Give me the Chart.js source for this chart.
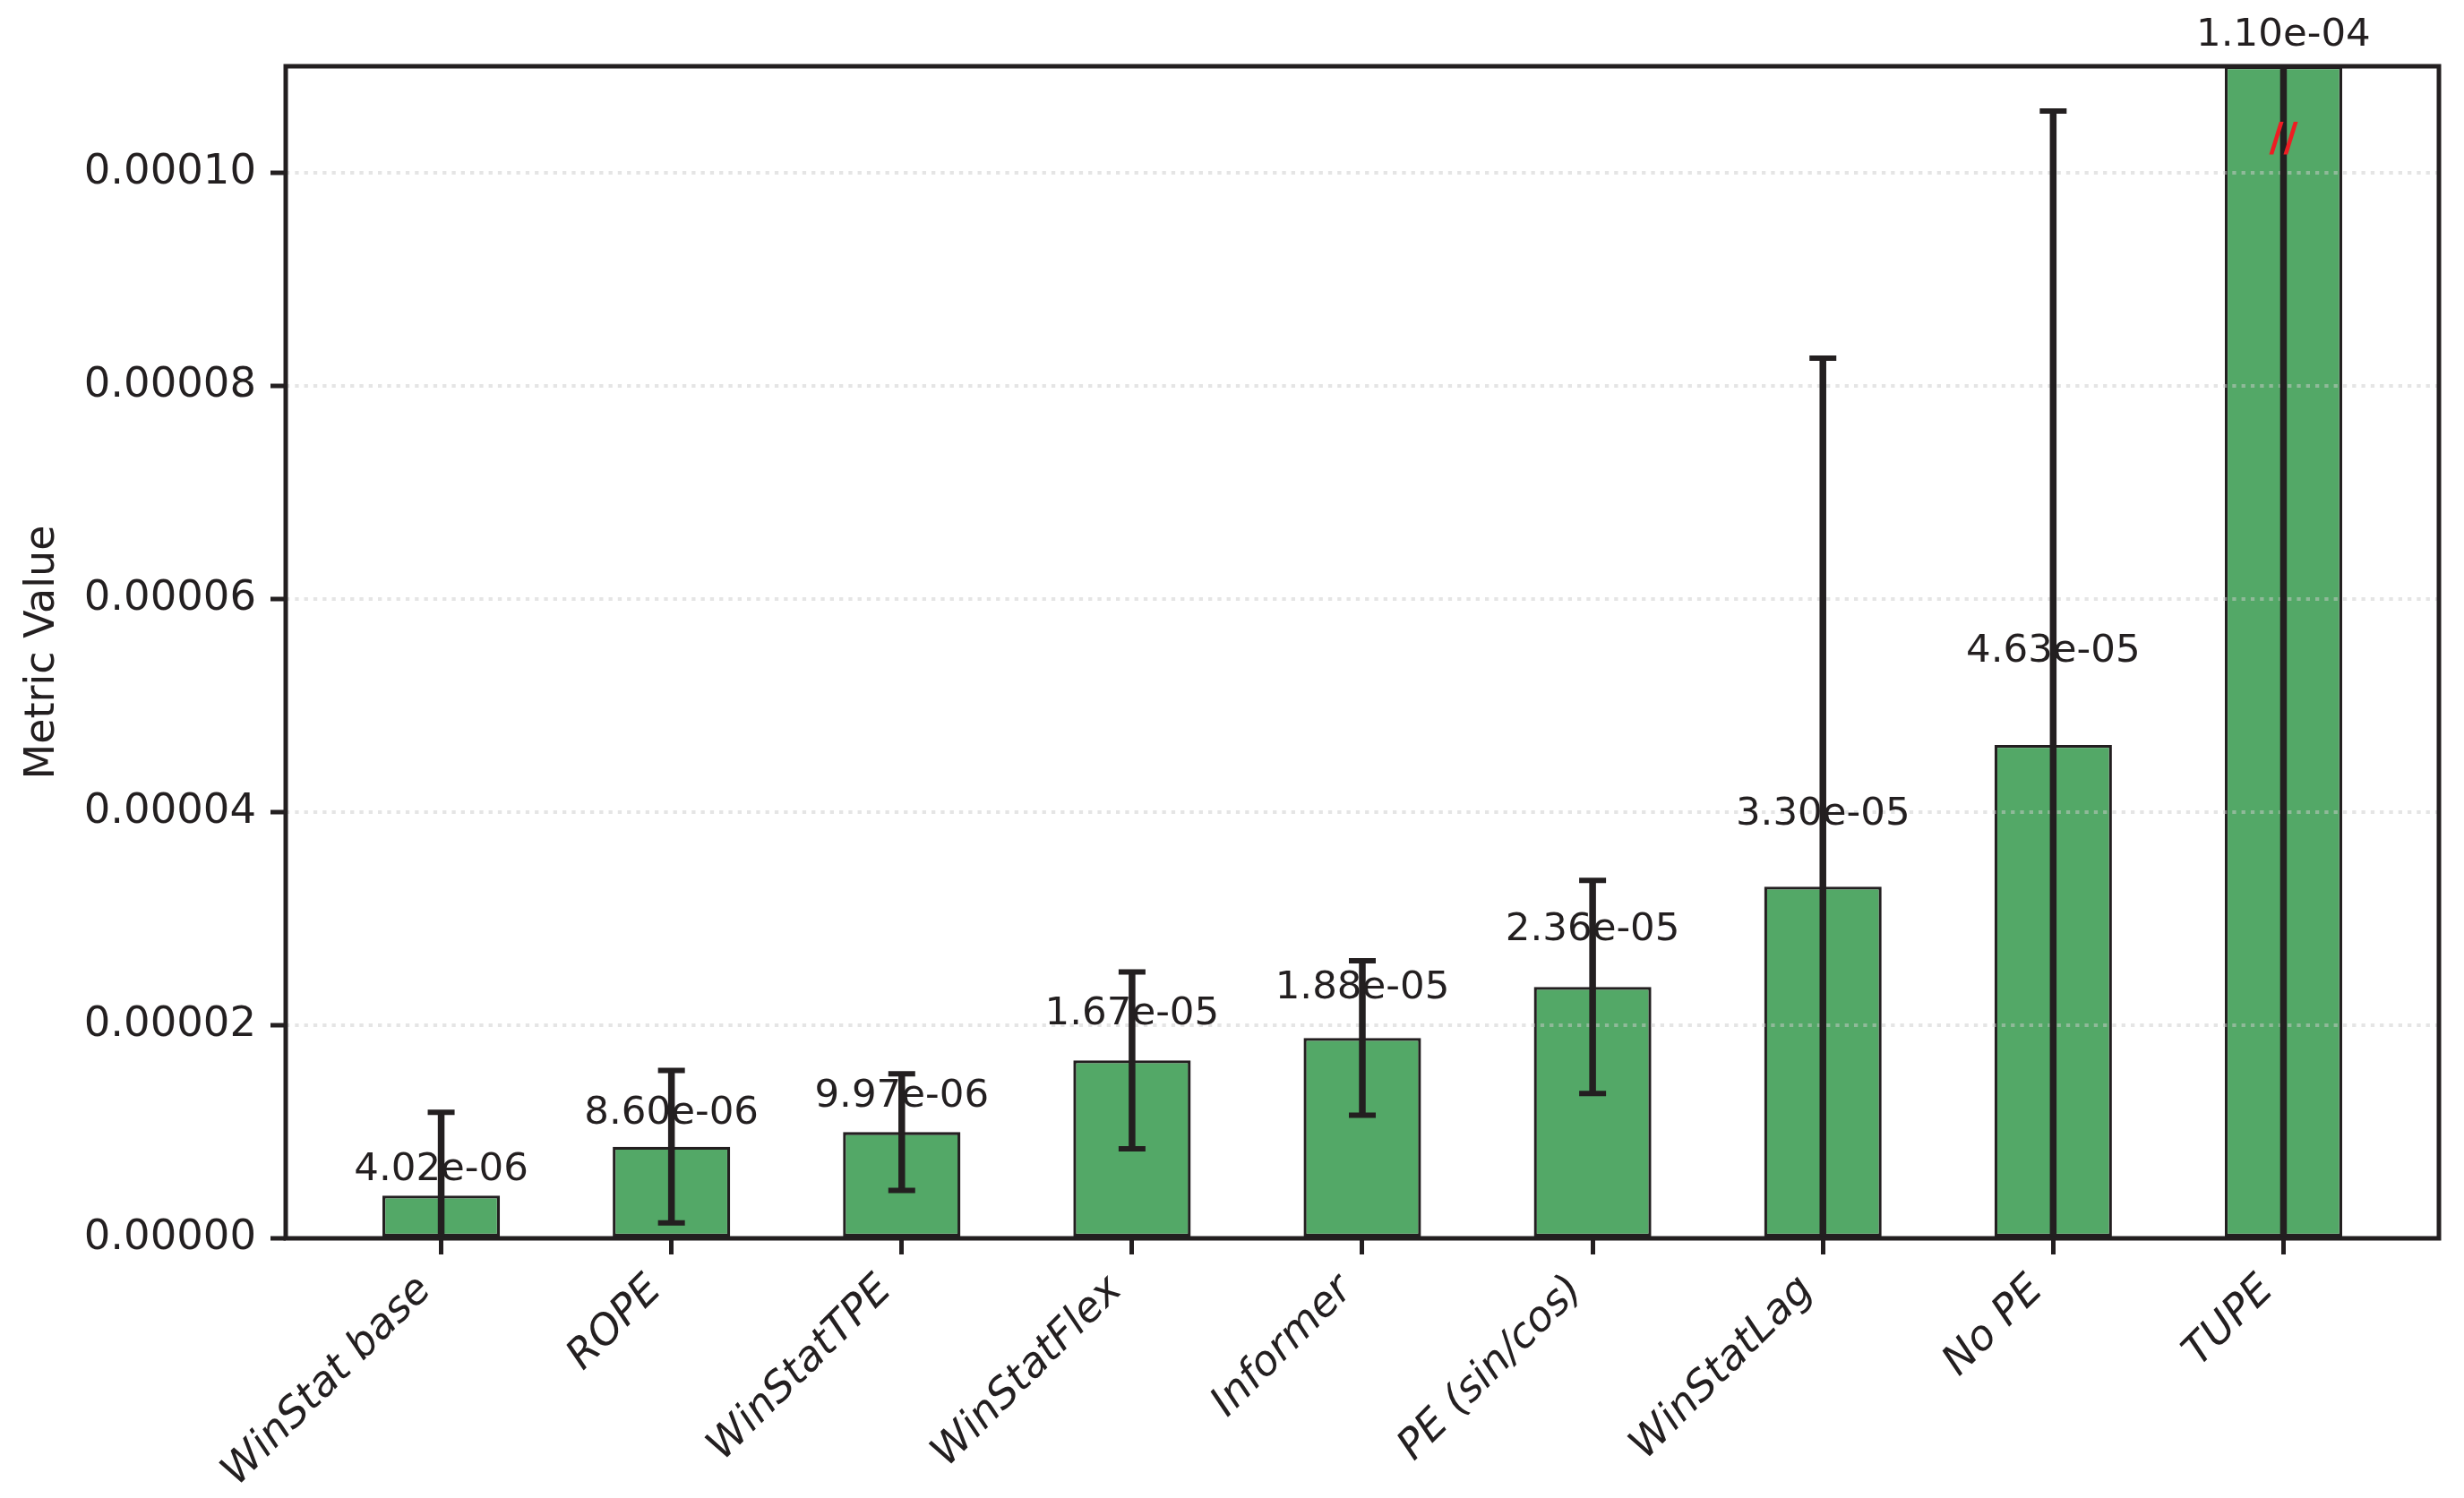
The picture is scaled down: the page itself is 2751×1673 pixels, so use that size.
<!DOCTYPE html>
<html>
<head>
<meta charset="utf-8">
<title>Metric Value by positional encoding</title>
<script src="https://cdn.jsdelivr.net/npm/chart.js@4.4.1/dist/chart.umd.min.js"></script>
<style>
    html, body {
        margin: 0;
        padding: 0;
        background: #ffffff;
        overflow: hidden;
    }
    canvas {
        display: block;
    }
</style>
</head>
<body>
<canvas id="metricChart" width="2751" height="1673"></canvas>
<script>
const categories = ['WinStat base', 'ROPE', 'WinStatTPE', 'WinStatFlex', 'Informer', 'PE (sin/cos)', 'WinStatLag', 'No PE', 'TUPE'];
const meanValues = [4.02e-6, 8.60e-6, 9.97e-6, 1.67e-5, 1.88e-5, 2.36e-5, 3.30e-5, 4.63e-5, 1.10e-4];
const stdValues = [7.81e-6, 7.16e-6, 5.47e-6, 8.3e-6, 7.25e-6, 1.0e-5, 4.96e-5, 5.95e-5, 1.6e-4];
const yTickValues = [0, 2e-5, 4e-5, 6e-5, 8e-5, 1e-4];
const yMax = 1.1e-4;
const breakMarkValue = 1.03e-4;

const inkColor = '#231f20';
const barColor = '#53a867';
const fontFamily = "'DejaVu Sans', 'Liberation Sans', sans-serif";
const valueFontSize = 43.5;

function formatSci(value) {
    const [mantissa, exponent] = value.toExponential(2).split('e');
    const sign = exponent.startsWith('-') ? '-' : '+';
    const digits = exponent.replace(/[-+]/, '').padStart(2, '0');
    return `${mantissa}e${sign}${digits}`;
}

const overlayPlugin = {
    id: 'overlay',
    afterDraw(chart) {
        const { ctx, chartArea } = chart;
        const xScale = chart.scales.x;
        const yScale = chart.scales.y;

        // error bars, clipped to the axes like matplotlib does
        ctx.save();
        ctx.beginPath();
        ctx.rect(chartArea.left, chartArea.top, chartArea.right - chartArea.left, chartArea.bottom - chartArea.top);
        ctx.clip();
        ctx.strokeStyle = inkColor;
        ctx.lineCap = 'butt';
        meanValues.forEach((mean, i) => {
            const px = xScale.getPixelForValue(i);
            const upper = yScale.getPixelForValue(mean + stdValues[i]);
            const lower = yScale.getPixelForValue(mean - stdValues[i]);

            ctx.lineWidth = 7.5;
            ctx.beginPath();
            ctx.moveTo(px, upper);
            ctx.lineTo(px, lower);
            ctx.stroke();

            ctx.lineWidth = 6;
            ctx.beginPath();
            ctx.moveTo(px - 15, upper);
            ctx.lineTo(px + 15, upper);
            ctx.moveTo(px - 15, lower);
            ctx.lineTo(px + 15, lower);
            ctx.stroke();
        });
        ctx.restore();

        // spines
        ctx.save();
        ctx.strokeStyle = inkColor;
        ctx.lineWidth = 5;
        ctx.strokeRect(chartArea.left, chartArea.top, chartArea.right - chartArea.left, chartArea.bottom - chartArea.top);
        ctx.restore();

        // value labels
        ctx.save();
        ctx.fillStyle = inkColor;
        ctx.font = `${valueFontSize}px ${fontFamily}`;
        ctx.textAlign = 'center';
        ctx.textBaseline = 'alphabetic';
        meanValues.forEach((mean, i) => {
            const clipped = mean >= yMax;
            const labelValue = clipped ? yMax * 1.01 : mean * 1.15;
            const px = xScale.getPixelForValue(i);
            const py = yScale.getPixelForValue(labelValue) - valueFontSize * 0.236;
            ctx.fillText(formatSci(mean), px, py);

            if (clipped) {
                ctx.save();
                ctx.fillStyle = '#ee1d23';
                ctx.font = `bold 44px ${fontFamily}`;
                ctx.textBaseline = 'middle';
                ctx.fillText('//', px, yScale.getPixelForValue(breakMarkValue));
                ctx.restore();
            }
        });
        ctx.restore();
    }
};

new Chart(document.getElementById('metricChart'), {
    type: 'bar',
    data: {
        datasets: [
            {
                label: 'Metric Value',
                data: meanValues.map((value, i) => ({ x: i, y: value })),
                backgroundColor: barColor,
                borderColor: inkColor,
                borderWidth: 3.3,
                borderSkipped: false,
                barPercentage: 0.51,
                categoryPercentage: 1.0
            }
        ]
    },
    options: {
        responsive: false,
        animation: false,
        devicePixelRatio: 1,
        layout: {
            padding: { left: 0, right: 28, top: 74, bottom: 0 }
        },
        plugins: {
            legend: { display: false },
            tooltip: { enabled: false }
        },
        scales: {
            x: {
                type: 'linear',
                position: 'bottom',
                offset: false,
                min: -0.675,
                max: 8.675,
                afterBuildTicks: (scale) => {
                    scale.ticks = categories.map((_, i) => ({ value: i }));
                },
                afterFit: (scale) => {
                    scale.height = 290;
                },
                ticks: {
                    autoSkip: false,
                    minRotation: 45,
                    maxRotation: 45,
                    padding: 13,
                    labelOffset: -18,
                    color: inkColor,
                    font: { family: fontFamily, size: 46.5, style: 'italic' },
                    callback: (value) => categories[value]
                },
                grid: {
                    display: true,
                    offset: false,
                    drawOnChartArea: false,
                    drawTicks: true,
                    tickLength: 18,
                    tickWidth: 5,
                    tickColor: inkColor,
                    tickBorderDash: []
                },
                border: { display: false }
            },
            y: {
                type: 'linear',
                min: 0,
                max: yMax,
                afterBuildTicks: (scale) => {
                    scale.ticks = yTickValues.map((value) => ({ value }));
                },
                afterFit: (scale) => {
                    scale.width = 319;
                },
                ticks: {
                    padding: 16,
                    color: inkColor,
                    font: { family: fontFamily, size: 46.5 },
                    callback: (value) => value.toFixed(5)
                },
                grid: {
                    display: true,
                    z: 1,
                    color: 'rgba(204, 204, 204, 0.5)',
                    lineWidth: 4,
                    borderDash: [4.3, 6],
                    tickLength: 17,
                    tickWidth: 5,
                    tickColor: inkColor,
                    tickBorderDash: []
                },
                border: { display: false, dash: [4.3, 6] },
                title: {
                    display: true,
                    text: 'Metric Value',
                    color: inkColor,
                    padding: { top: 20, bottom: 0 },
                    font: { family: fontFamily, size: 46 }
                }
            }
        }
    },
    plugins: [overlayPlugin]
});
</script>
</body>
</html>
